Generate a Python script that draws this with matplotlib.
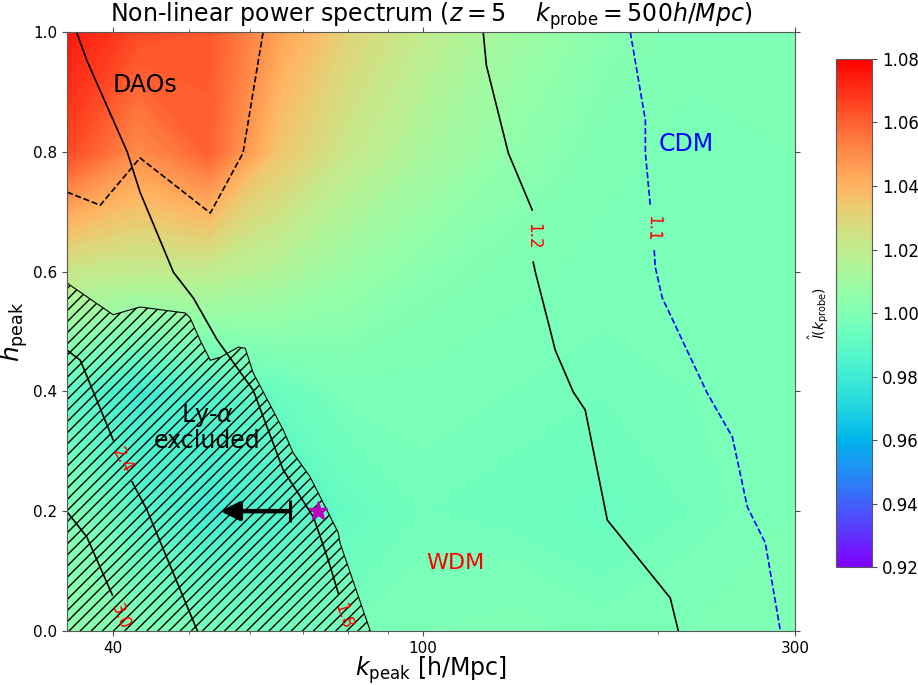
import numpy as np
import matplotlib
matplotlib.use('Agg')
import matplotlib.pyplot as plt
from matplotlib.ticker import NullFormatter, LogLocator

# grid of the colour field
k_grid = [35, 43, 53, 65, 80, 100, 130, 170, 220, 300]
h_grid = [0.0, 0.2, 0.4, 0.6, 0.8, 1.0]
ratio = [
    [1.005, 1.000, 0.997, 0.995, 0.997, 0.999, 1.000, 0.998, 0.999, 1.000],  # h=0.0
    [1.000, 0.988, 0.980, 0.985, 0.992, 0.996, 0.995, 0.993, 0.996, 0.999],  # h=0.2
    [0.990, 0.980, 0.986, 0.993, 0.998, 0.998, 0.997, 0.996, 0.997, 0.999],  # h=0.4
    [1.022, 1.020, 1.020, 1.015, 1.008, 1.003, 1.000, 0.998, 0.998, 0.999],  # h=0.6
    [1.065, 1.050, 1.060, 1.035, 1.022, 1.013, 1.005, 1.000, 0.998, 0.999],  # h=0.8
    [1.075, 1.065, 1.062, 1.045, 1.030, 1.020, 1.010, 1.003, 1.000, 1.000],  # h=1.0
]

# contour lines of the other quantity
c18_k = [35.9, 37.0, 41.7, 43.3, 47.8, 50.7, 54.4, 60.5, 66.1, 72.3, 75.5, 77.8]
c18_h = [1.0, 0.953, 0.800, 0.733, 0.599, 0.556, 0.486, 0.402, 0.269, 0.190, 0.119, 0.063]
c24_k = [34.9, 36.3, 40.0]
c24_h = [0.469, 0.452, 0.319]
c24b_k = [42.3, 44.2, 51.3]
c24b_h = [0.249, 0.202, 0.0]
c30_k = [34.9, 37.0, 39.9]
c30_h = [0.199, 0.157, 0.060]
c12a_k = [119.4, 120.5, 128.6, 138.0]
c12a_h = [1.0, 0.945, 0.798, 0.703]
c12b_k = [138.4, 139.3, 145.5, 147.7, 155.8, 161.4, 172.3, 207.5, 212.5]
c12b_h = [0.616, 0.599, 0.503, 0.469, 0.399, 0.369, 0.185, 0.055, 0.0]
c11a_k = [184.4, 192.8, 192.8, 195.6]
c11a_h = [1.0, 0.853, 0.798, 0.711]
c11b_k = [197.9, 198.5, 202.7, 211.9, 231.5, 249.3, 260.6, 274.8, 287.3]
c11b_h = [0.636, 0.608, 0.556, 0.503, 0.397, 0.324, 0.207, 0.147, 0.0]

# DAO boundary (dashed)
dao_k = [34.9, 38.5, 43.3, 53.3, 58.7, 62.3]
dao_h = [0.733, 0.711, 0.790, 0.698, 0.798, 1.0]

# Ly-alpha exclusion boundary
lya_k = [34.9, 40.0, 43.3, 49.5, 50.2, 51.7, 53.3, 54.9, 57.9, 59.1, 60.5, 66.1, 68.1, 71.6, 77.8, 78.2, 85.5]
lya_h = [0.581, 0.528, 0.541, 0.531, 0.523, 0.486, 0.452, 0.457, 0.474, 0.472, 0.431, 0.336, 0.297, 0.257, 0.164, 0.147, 0.0]

kmin, kmax = 34.9, 300
star_k, star_h = 73.3, 0.2
arrow_from, arrow_to = 67.5, 54.9

fig = plt.figure(figsize=(9.18, 6.85), dpi=100)
ax = fig.add_axes([0.073, 0.079, 0.793, 0.874])
cax = fig.add_axes([0.911, 0.172, 0.039, 0.742])

levels = np.linspace(0.92, 1.08, 161)
cf = ax.contourf(k_grid, h_grid, np.array(ratio), levels=levels, cmap='rainbow',
                 vmin=0.92, vmax=1.08)

ax.plot(c18_k, c18_h, color='k', lw=1.2)
ax.plot(c24_k, c24_h, color='k', lw=1.2)
ax.plot(c24b_k, c24b_h, color='k', lw=1.2)
ax.plot(c30_k, c30_h, color='k', lw=1.2)
ax.plot(c12a_k, c12a_h, color='k', lw=1.2)
ax.plot(c12b_k, c12b_h, color='k', lw=1.2)
ax.plot(c11a_k, c11a_h, color='b', lw=1.2, ls='--')
ax.plot(c11b_k, c11b_h, color='b', lw=1.2, ls='--')
ax.plot(dao_k, dao_h, color='k', lw=1.2, ls='--')

# contour labels
lab = dict(color='r', fontsize=12, ha='center', va='center')
ax.text(78.9, 0.025, '1.8', rotation=-72, **lab)
ax.text(41.1, 0.285, '2.4', rotation=-62, **lab)
ax.text(40.8, 0.024, '3.0', rotation=-68, **lab)
ax.text(138.4, 0.659, '1.2', rotation=-90, **lab)
ax.text(196.8, 0.673, '1.1', rotation=-92, **lab)

# Ly-alpha hatched region
ax.fill_betweenx(lya_h, kmin, lya_k, facecolor='none', edgecolor='k', hatch='///', linewidth=0)
ax.plot(lya_k, lya_h, color='k', lw=0.8)

ax.annotate('', xy=(arrow_to, 0.2), xytext=(arrow_from, 0.2),
            arrowprops=dict(arrowstyle='-|>', lw=3.2, color='k', mutation_scale=28,
                            shrinkA=0, shrinkB=0))
ax.plot([arrow_from], [0.2], marker='|', color='k', markersize=16, mew=2.2)
ax.plot([star_k], [star_h], marker='*', color='m', markersize=14, ls='none')

ax.text(44.0, 0.912, 'DAOs', fontsize=17, ha='center', va='center')
ax.text(52.8, 0.339, 'Ly-$\\alpha$\nexcluded', fontsize=17, ha='center', va='center',
        linespacing=1.0)
ax.text(110, 0.114, 'WDM', fontsize=16, color='r', ha='center', va='center')
ax.text(217.6, 0.813, 'CDM', fontsize=17, color='b', ha='center', va='center')

ax.set_xscale('log')
ax.set_xlim(kmin, kmax)
ax.set_ylim(0, 1)
ax.set_xticks([40, 100, 300])
ax.set_xticklabels(['40', '100', '300'])
ax.xaxis.set_minor_locator(LogLocator(subs=np.arange(2, 10)))
ax.xaxis.set_minor_formatter(NullFormatter())
ax.set_yticks([0.0, 0.2, 0.4, 0.6, 0.8, 1.0])
ax.tick_params(which='both', top=True, right=True, labelsize=11, colors='0.3', labelcolor='k')
for s in ax.spines.values():
    s.set_color('0.35')

ax.set_xlabel('$k_{\\rm peak}$ [h/Mpc]', fontsize=17, labelpad=-1)
ax.set_ylabel('$h_{\\rm peak}$', fontsize=18, labelpad=2)
ax.set_title('Non-linear power spectrum ($z=5$    $k_{\\rm probe}=500h/Mpc$)', fontsize=17)

cb = fig.colorbar(cf, cax=cax, ticks=np.arange(0.92, 1.081, 0.02))
cb.ax.tick_params(labelsize=12, colors='0.3', labelcolor='k')
cb.ax.set_yticklabels(['%.2f' % t for t in np.arange(0.92, 1.081, 0.02)])
cb.outline.set_edgecolor('0.35')
cb.set_label('$\\hat{l}(k_{\\rm probe})$', fontsize=10)
cb.ax.yaxis.set_label_position('left')

fig.savefig('out.png', dpi=100)
